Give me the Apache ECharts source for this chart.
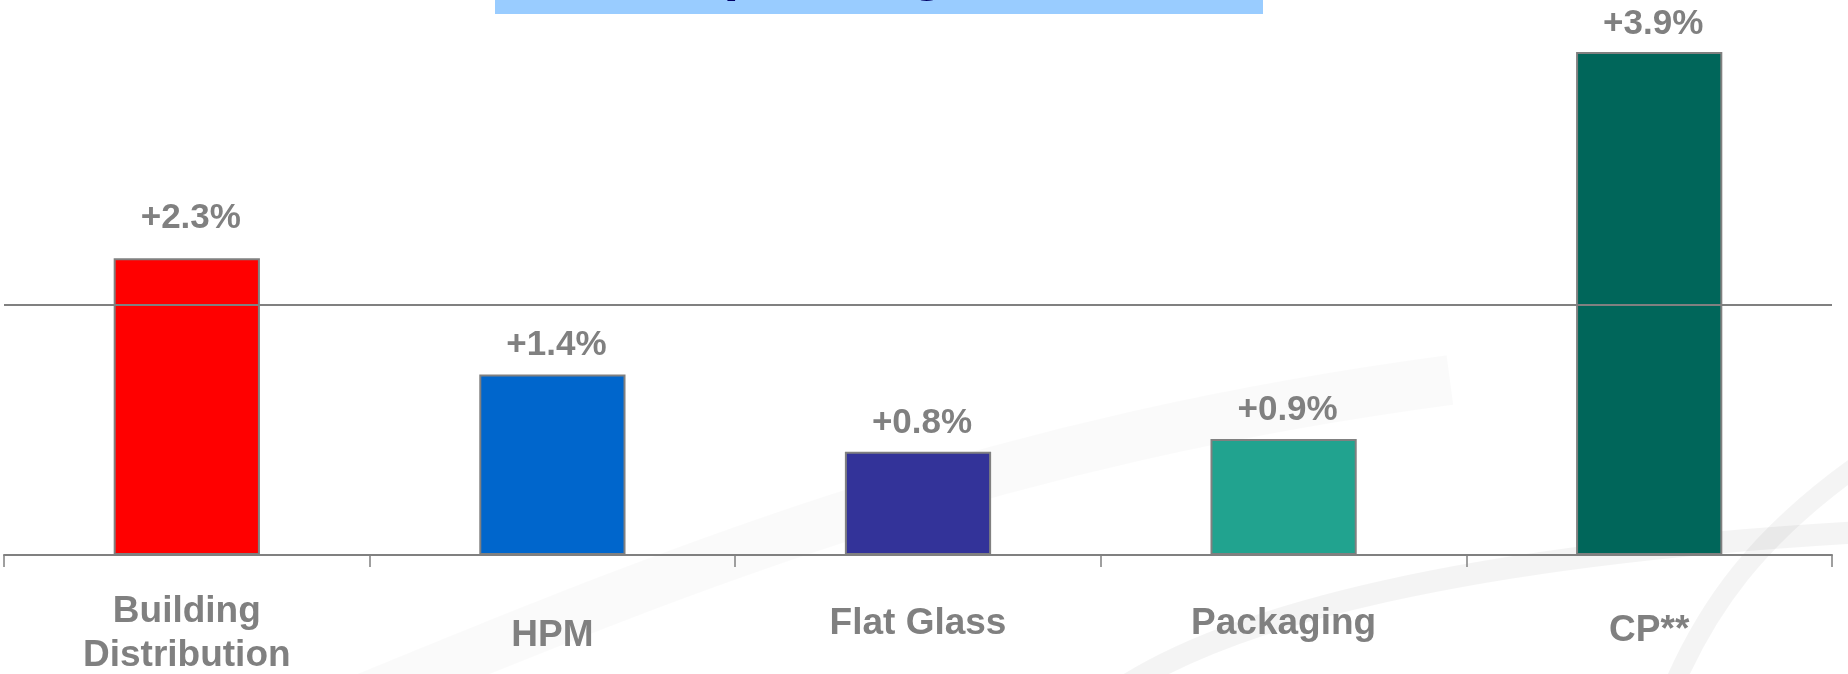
<!DOCTYPE html>
<html>
<head>
<meta charset="utf-8">
<script src="https://cdn.jsdelivr.net/npm/echarts@6/dist/echarts.min.js"></script>
<style>
  html, body { margin: 0; padding: 0; background: #ffffff; }
  #chart { width: 1848px; height: 674px; }
</style>
</head>
<body>
<div id="chart"></div>
<script>
// Sector figures
const categories = ['Building\nDistribution', 'HPM', 'Flat Glass', 'Packaging', 'CP**'];
const growth = [2.3, 1.4, 0.8, 0.9, 3.9];
const groupAverage = 1.94;
const barColors = ['#FF0000', '#0066CC', '#333399', '#21A38F', '#00665A'];
const titleText = 'Operating income';

// Caption drop (px) for single-line category captions
const captionDrop = { 'HPM': 24, 'Flat Glass': 12, 'Packaging': 12, 'CP**': 19 };
// Gap (px) between a bar top and its value label
const labelGap = [22, 12, 11, 11, 10];

const FONT = '"Liberation Sans", Arial, Helvetica, sans-serif';
const GREY = '#808080';

const chart = echarts.init(document.getElementById('chart'), null, { renderer: 'canvas' });

const axisItems = categories.map(name => {
  const drop = captionDrop[name] || 0;
  return { value: name, textStyle: { padding: [drop, 0, 0, 0] } };
});

const barItems = growth.map((v, i) => ({
  value: v,
  itemStyle: { color: barColors[i] },
  label: { distance: labelGap[i] }
}));

chart.setOption({
  backgroundColor: '#ffffff',
  animation: false,
  grid: { left: 4, right: 16, top: 39, bottom: 119, containLabel: false, outerBoundsMode: 'none' },
  xAxis: {
    type: 'category',
    data: axisItems,
    boundaryGap: true,
    axisLine: { show: true, lineStyle: { color: GREY, width: 2 } },
    axisTick: { show: true, length: 12, lineStyle: { color: GREY, width: 1.5 } },
    axisLabel: {
      interval: 0,
      margin: 35,
      color: GREY,
      fontFamily: FONT,
      fontSize: 37,
      fontWeight: 'bold',
      lineHeight: 44
    },
    splitLine: { show: false }
  },
  yAxis: { type: 'value', min: 0, max: 4, show: false },
  graphic: [
    // soft background swooshes
    {
      type: 'bezierCurve', z: -10, silent: true,
      shape: { x1: 360, y1: 700, cpx1: 700, cpy1: 560, cpx2: 1000, cpy2: 440, x2: 1450, y2: 380 },
      style: { stroke: 'rgba(0,0,0,0.018)', lineWidth: 50, fill: null, shadowBlur: 40, shadowColor: 'rgba(0,0,0,0.03)' }
    },
    {
      type: 'bezierCurve', z: -10, silent: true,
      shape: { x1: 1080, y1: 720, cpx1: 1200, cpy1: 610, cpx2: 1500, cpy2: 550, x2: 1900, y2: 530 },
      style: { stroke: 'rgba(0,0,0,0.045)', lineWidth: 22, fill: null, shadowBlur: 36, shadowColor: 'rgba(0,0,0,0.08)' }
    },
    {
      type: 'bezierCurve', z: -10, silent: true,
      shape: { x1: 1660, y1: 720, cpx1: 1700, cpy1: 610, cpx2: 1760, cpy2: 530, x2: 1880, y2: 450 },
      style: { stroke: 'rgba(0,0,0,0.045)', lineWidth: 20, fill: null, shadowBlur: 36, shadowColor: 'rgba(0,0,0,0.08)' }
    },
    // title banner
    {
      type: 'rect', z: 5, silent: true,
      shape: { x: 495, y: 0, width: 768, height: 14 },
      style: { fill: '#99CCFF' }
    },
    {
      type: 'text', z: 6, silent: true,
      x: 680, y: -26,
      style: { text: titleText, font: 'bold 56px ' + FONT, fill: '#000066', align: 'left', verticalAlign: 'middle' }
    }
  ],
  series: [{
    type: 'bar',
    data: barItems,
    barWidth: '40%',
    itemStyle: { borderColor: GREY, borderWidth: 2 },
    label: {
      show: true,
      position: 'top',
      offset: [4, 0],
      color: GREY,
      fontFamily: FONT,
      fontSize: 35,
      fontWeight: 'bold',
      formatter: p => '+' + p.value.toFixed(1) + '%'
    },
    markLine: {
      silent: true,
      symbol: 'none',
      z: 10,
      label: { show: false },
      lineStyle: { color: GREY, width: 2, type: 'solid' },
      data: [{ yAxis: groupAverage }]
    }
  }]
});
</script>
</body>
</html>
